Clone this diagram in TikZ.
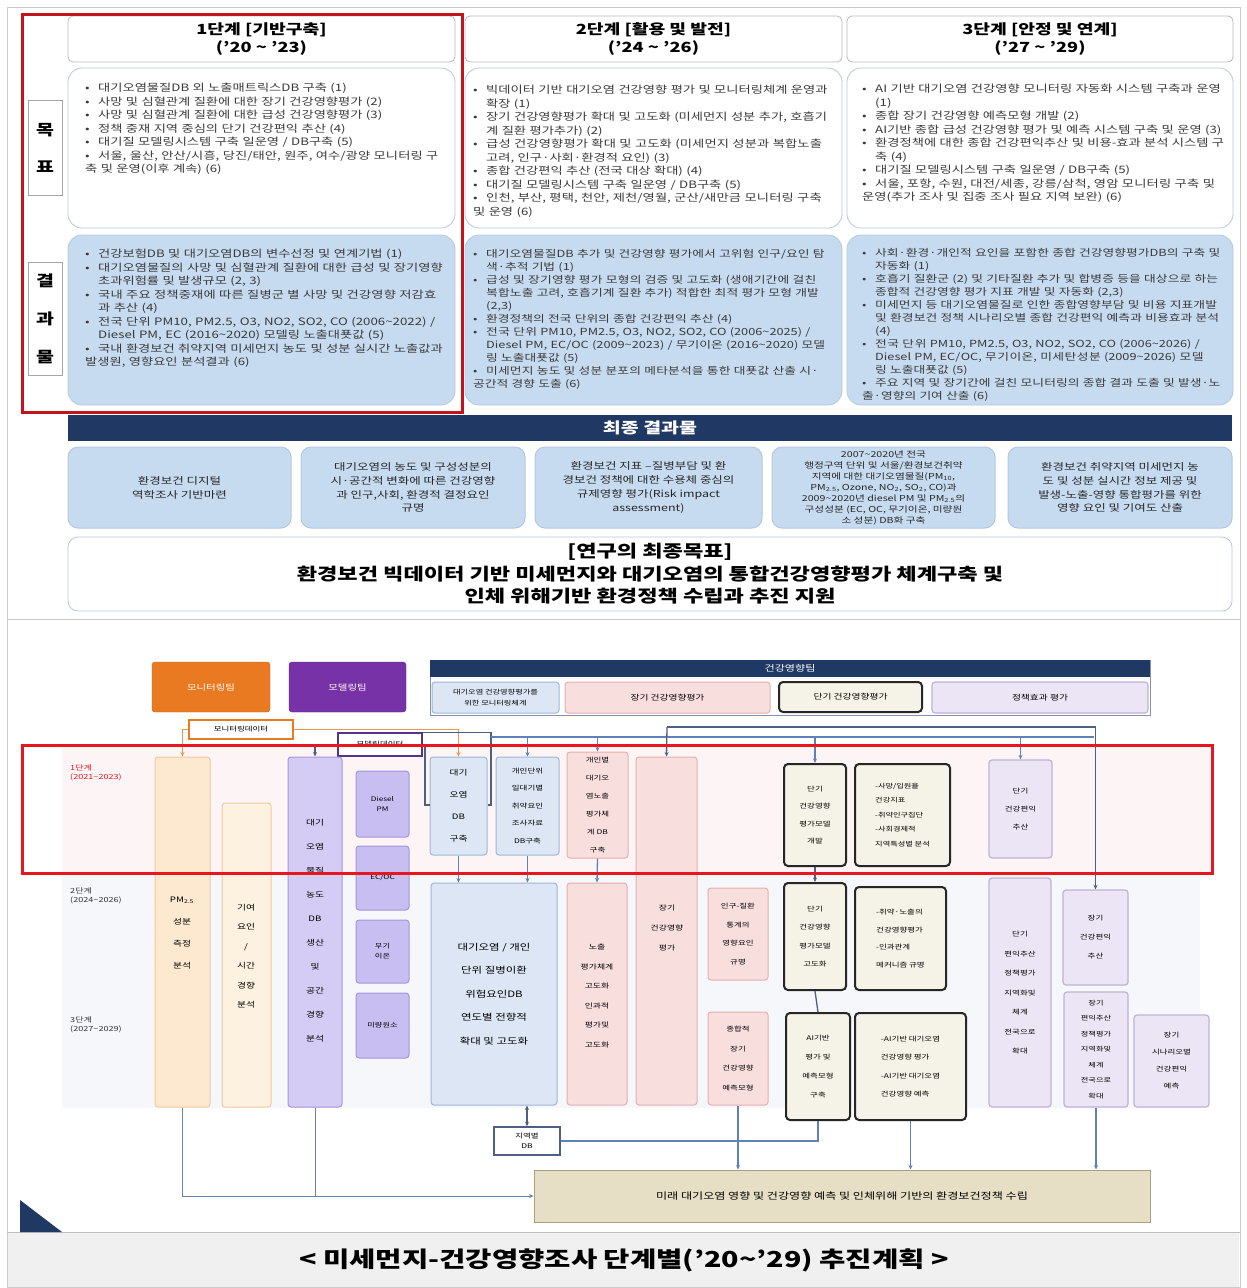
\documentclass[tikz,border=0pt]{standalone}
\usepackage{fontspec}
\setmainfont{Noto Sans CJK KR}[FakeStretch=1.3]
\usetikzlibrary{arrows.meta}
\XeTeXlinebreaklocale "ko"
\XeTeXlinebreakskip=0pt plus 0.5pt
\definecolor{navy}{HTML}{1F3864}
\definecolor{resblue}{HTML}{C6DBF0}
\definecolor{lineb}{HTML}{B4C8E0}
\definecolor{redA}{HTML}{C4141B}
\definecolor{redB}{HTML}{E8161E}
\definecolor{txtg}{HTML}{3A3A3A}
\definecolor{orgH}{HTML}{EA7A22}
\definecolor{purH}{HTML}{7632A6}
\definecolor{peach}{HTML}{FDE8D0}
\definecolor{peachB}{HTML}{F2C9A0}
\definecolor{peach2}{HTML}{FDF1E0}
\definecolor{lav}{HTML}{D5CCF6}
\definecolor{lav2}{HTML}{C9BEF2}
\definecolor{lavB}{HTML}{A496DC}
\definecolor{lblue}{HTML}{DCE6F4}
\definecolor{lblueB}{HTML}{9FB6D6}
\definecolor{pinkF}{HTML}{F9DEDE}
\definecolor{pinkB}{HTML}{E6AFAF}
\definecolor{cream}{HTML}{F5F3E7}
\definecolor{plav}{HTML}{ECE5F5}
\definecolor{plavB}{HTML}{BEB2D6}
\definecolor{tanF}{HTML}{E6DFC6}
\definecolor{tanB}{HTML}{A8A283}
\definecolor{capg}{HTML}{F0F0F0}
\definecolor{conBc}{HTML}{5E82B8}
\definecolor{bgA}{HTML}{F6F7FB}
\definecolor{bgP}{HTML}{FDF5F5}
\newcommand\fsz[2]{\fontsize{#1}{#2}\selectfont}
\newcommand\bl[1]{\par\noindent\hangindent=13pt\hangafter=1\makebox[13pt][l]{\textbullet}#1}
\newcommand\mybox[7]{%
  \pgfmathsetmacro\mbcx{(#3+#5)/2}%
  \pgfmathsetmacro\mbcy{(#4+#6)/2}%
  \pgfmathsetmacro\mbw{#5-#3}%
  \pgfmathsetmacro\mbh{#6-#4}%
  \node[#2, minimum width=\mbw pt, minimum height=\mbh pt] (#1) at (\mbcx,\mbcy) {#7};}
\begin{document}
\begin{tikzpicture}[x=1pt,y=-1pt,
  every node/.style={inner sep=0pt, align=center, font=\fsz{7}{9}},
  >={Stealth[length=4.5pt,width=4pt]},
  hdr/.style={draw=gray!55, fill=white, rounded corners=5pt, line width=0.8pt, font=\bfseries\fsz{14}{18.5}},
  goal/.style={draw=lineb, fill=white, rounded corners=14pt, line width=0.8pt},
  res/.style={draw=lineb, fill=resblue, rounded corners=14pt, line width=0.8pt},
  lab/.style={draw=gray!70, fill=white, line width=0.8pt},
  btxt/.style={anchor=north west, align=left, text=txtg, font=\fsz{10.2}{13.5}},
  frb/.style={draw=lineb, fill=resblue, rounded corners=10pt, line width=1pt, text=black!85},
  pk/.style={draw=pinkB, fill=pinkF, rounded corners=3pt, line width=1pt},
  lb/.style={draw=lblueB, fill=lblue, rounded corners=3pt, line width=1pt},
  pe/.style={draw=peachB, fill=peach, rounded corners=3pt, line width=1pt},
  lv/.style={draw=lavB, fill=lav, rounded corners=3pt, line width=1pt},
  pl/.style={draw=plavB, fill=plav, rounded corners=3pt, line width=1.2pt},
  dk/.style={draw=black!85, fill=cream, rounded corners=4pt, line width=2pt},
  conB/.style={draw=conBc, line width=1.3pt},
  conO/.style={draw=orgH!80, line width=1.1pt},
  conN/.style={draw=navy!80, line width=1.3pt},
  conG/.style={draw=conBc!80!gray, line width=1pt}
]
\useasboundingbox (0,0) rectangle (1247,1288);
\fill[white] (0,0) rectangle (1247,1288);
% frame and caption band
\fill[capg] (8,1232) rectangle (1239,1287);
\draw[gray!40, line width=1pt] (7,7) rectangle (1240,1287);
\draw[gray!40, line width=1pt] (7,619) -- (1240,619);
\draw[gray!50, line width=0.8pt] (7,1232) -- (1240,1232);

% ===== top section =====
\mybox{h1}{hdr}{68}{16}{455}{62}{1단계 [기반구축]\\('20 \textasciitilde\ '23)}
\mybox{h2}{hdr}{465}{16}{842}{62}{2단계 [활용 및 발전]\\('24 \textasciitilde\ '26)}
\mybox{h3}{hdr}{847}{16}{1233}{62}{3단계 [안정 및 연계]\\('27 \textasciitilde\ '29)}

\mybox{g1}{goal}{68}{68}{455}{228}{}
\mybox{g2}{goal}{465}{68}{842}{228}{}
\mybox{g3}{goal}{847}{68}{1233}{228}{}
\mybox{r1}{res}{68}{235}{455}{405}{}
\mybox{r2}{res}{465}{235}{842}{405}{}
\mybox{r3}{res}{847}{235}{1233}{405}{}

\mybox{lg}{lab, font=\bfseries\fsz{15}{37}}{28}{100}{62}{195}{목\\표}
\mybox{lr}{lab, font=\bfseries\fsz{15}{38}}{28}{262}{62}{375}{결\\과\\물}

\node[btxt, text width=358pt] (g1t) at (85,78) {%
\bl{대기오염물질DB 외 노출매트릭스DB 구축 (1)}%
\bl{사망 및 심혈관계 질환에 대한 장기 건강영향평가 (2)}%
\bl{사망 및 심혈관계 질환에 대한 급성 건강영향평가 (3)}%
\bl{정책 중재 지역 중심의 단기 건강편익 추산 (4)}%
\bl{대기질 모델링시스템 구축 일운영 / DB구축 (5)}%
\bl{서울, 울산, 안산/시흥, 당진/태안, 원주, 여수/광양 모니터링 구축 및 운영(이후 계속) (6)}};
\node[btxt, text width=355pt] (g2t) at (473,80) {%
\bl{빅데이터 기반 대기오염 건강영향 평가 및 모니터링체계 운영과 확장 (1)}%
\bl{장기 건강영향평가 확대 및 고도화 (미세먼지 성분 추가, 호흡기계 질환 평가추가) (2)}%
\bl{급성 건강영향평가 확대 및 고도화 (미세먼지 성분과 복합노출 고려, 인구·사회·환경적 요인) (3)}%
\bl{종합 건강편익 추산 (전국 대상 확대) (4)}%
\bl{대기질 모델링시스템 구축 일운영 / DB구축 (5)}%
\bl{인천, 부산, 평택, 천안, 제천/영월, 군산/새만금 모니터링 구축 및 운영 (6)}};
\node[btxt, text width=362pt] (g3t) at (862,79) {%
\bl{AI 기반 대기오염 건강영향 모니터링 자동화 시스템 구축과 운영 (1)}%
\bl{종합 장기 건강영향 예측모형 개발 (2)}%
\bl{AI기반 종합 급성 건강영향 평가 및 예측 시스템 구축 및 운영 (3)}%
\bl{환경정책에 대한 종합 건강편익추산 및 비용-효과 분석 시스템 구축 (4)}%
\bl{대기질 모델링시스템 구축 일운영 / DB구축 (5)}%
\bl{서울, 포항, 수원, 대전/세종, 강릉/삼척, 영암 모니터링 구축 및 운영(추가 조사 및 집중 조사 필요 지역 보완) (6)}};

\node[btxt, text width=358pt] (r1t) at (85,244) {%
\bl{건강보험DB 및 대기오염DB의 변수선정 및 연계기법 (1)}%
\bl{대기오염물질의 사망 및 심혈관계 질환에 대한 급성 및 장기영향 초과위험률 및 발생규모 (2, 3)}%
\bl{국내 주요 정책중재에 따른 질병군 별 사망 및 건강영향 저감효과 추산 (4)}%
\bl{전국 단위 PM10, PM2.5, O3, NO2, SO2, CO (2006\textasciitilde 2022) / Diesel PM, EC (2016\textasciitilde 2020) 모델링 노출대푯값 (5)}%
\bl{국내 환경보건 취약지역 미세먼지 농도 및 성분 실시간 노출값과 발생원, 영향요인 분석결과 (6)}};
\node[btxt, text width=352pt, font=\fsz{9.8}{13}] (r2t) at (473,244) {%
\bl{대기오염물질DB 추가 및 건강영향 평가에서 고위험 인구/요인 탐색·추적 기법 (1)}%
\bl{급성 및 장기영향 평가 모형의 검증 및 고도화 (생애기간에 걸친 복합노출 고려, 호흡기계 질환 추가) 적합한 최적 평가 모형 개발 (2,3)}%
\bl{환경정책의 전국 단위의 종합 건강편익 추산 (4)}%
\bl{전국 단위 PM10, PM2.5, O3, NO2, SO2, CO (2006\textasciitilde 2025) / Diesel PM, EC/OC (2009\textasciitilde 2023) / 무기이온 (2016\textasciitilde 2020) 모델링 노출대푯값 (5)}%
\bl{미세먼지 농도 및 성분 분포의 메타분석을 통한 대푯값 산출 시·공간적 경향 도출 (6)}};
\node[btxt, text width=360pt, font=\fsz{9.8}{13}] (r3t) at (862,243) {%
\bl{사회·환경·개인적 요인을 포함한 종합 건강영향평가DB의 구축 및 자동화 (1)}%
\bl{호흡기 질환군 (2) 및 기타질환 추가 및 합병증 등을 대상으로 하는 종합적 건강영향 평가 지표 개발 및 자동화 (2,3)}%
\bl{미세먼지 등 대기오염물질로 인한 종합영향부담 및 비용 지표개발 및 환경보건 정책 시나리오별 종합 건강편익 예측과 비용효과 분석 (4)}%
\bl{전국 단위 PM10, PM2.5, O3, NO2, SO2, CO (2006\textasciitilde 2026) / Diesel PM, EC/OC, 무기이온, 미세탄성분 (2009\textasciitilde 2026) 모델링 노출대푯값 (5)}%
\bl{주요 지역 및 장기간에 걸친 모니터링의 종합 결과 도출 및 발생·노출·영향의 기여 산출 (6)}};

% red highlight (top)
\draw[redA, line width=3pt] (22,14) rectangle (462,412);

% final results
\mybox{fb}{fill=navy, text=white, font=\bfseries\fsz{15}{18}}{68}{415}{1232}{441}{최종 결과물}
\mybox{fr1}{frb, font=\fsz{9.6}{13.8}}{68}{447}{291}{528}{환경보건 디지털\\역학조사 기반마련}
\mybox{fr2}{frb, font=\fsz{9.6}{13.8}}{301}{447}{525}{528}{대기오염의 농도 및 구성성분의\\시·공간적 변화에 따른 건강영향\\과 인구,사회, 환경적 결정요인\\규명}
\mybox{fr3}{frb, font=\fsz{9.6}{13.8}}{535}{447}{762}{528}{환경보건 지표 –질병부담 및 환\\경보건 정책에 대한 수용체 중심의\\규제영향 평가(Risk impact\\assessment)}
\mybox{fr4}{frb, font=\fsz{8.2}{11}}{772}{447}{995}{528}{2007\textasciitilde 2020년 전국\\행정구역 단위 및 서울/환경보건취약\\지역에 대한 대기오염물질(PM\textsubscript{10},\\PM\textsubscript{2.5}, Ozone, NO\textsubscript{2}, SO\textsubscript{2}, CO)과\\2009\textasciitilde 2020년 diesel PM 및 PM\textsubscript{2.5}의\\구성성분 (EC, OC, 무기이온, 미량원\\소 성분) DB화 구축}
\mybox{fr5}{frb, font=\fsz{9.6}{13.8}}{1008}{447}{1232}{528}{환경보건 취약지역 미세먼지 농\\도 및 성분 실시간 정보 제공 및\\발생-노출-영향 통합평가를 위한\\영향 요인 및 기여도 산출}

\mybox{fg}{goal, rounded corners=10pt, font=\bfseries\fsz{17}{22.5}}{68}{537}{1232}{611}{[연구의 최종목표]\\환경보건 빅데이터 기반 미세먼지와 대기오염의 통합건강영향평가 체계구축 및\\인체 위해기반 환경정책 수립과 추진 지원}

% ===== flowchart =====
\fill[bgA] (62,745) rectangle (1200,1108);
\fill[bgP] (62,745) rectangle (1210,874);

\mybox{oh}{fill=orgH, draw=orgH!80!black, rounded corners=3pt, text=white, font=\fsz{8}{10}}{152}{662}{270}{712}{모니터링팀}
\mybox{ph}{fill=purH, draw=purH!80!black, rounded corners=3pt, text=white, font=\fsz{8}{10}}{289}{662}{406}{712}{모델링팀}
\draw[navy!55, line width=1pt] (430,660) rectangle (1150,715);
\mybox{hb}{fill=navy, text=white, font=\fsz{8.5}{10}}{430}{660}{1150}{677}{건강영향팀}
\mybox{s1}{lb, font=\fsz{6.3}{11}}{432}{682}{559}{713}{대기오염 건강영향평가를\\위한 모니터링체계}
\mybox{s2}{pk, font=\fsz{7.5}{10}}{565}{682}{770}{713}{장기 건강영향평가}
\mybox{s3}{dk, font=\fsz{7.5}{10}}{779}{682}{922}{712}{단기 건강영향평가}
\mybox{s4}{pl, font=\fsz{7.5}{10}}{932}{682}{1148}{713}{정책효과 평가}

\mybox{xb}{draw=orgH, line width=1.8pt, fill=white, font=\fsz{6.5}{8}}{189}{720}{293}{739}{모니터링데이터}
\mybox{mb}{draw=purH!60!navy, line width=1.5pt, fill=white, font=\fsz{6.5}{8}}{338}{733}{422}{756}{모델링데이터}

\node[anchor=north west, align=left, font=\fsz{7}{9}, text=redB] (p1) at (70,764) {1단계\\(2021\textasciitilde 2023)};
\node[anchor=north west, align=left, font=\fsz{7}{9}, text=black!80] (p2) at (70,887) {2단계\\(2024\textasciitilde 2026)};
\node[anchor=north west, align=left, font=\fsz{7}{9}, text=black!80] (p3) at (70,1016) {3단계\\(2027\textasciitilde 2029)};

\mybox{cA}{pe}{155}{757}{210}{1107}{}
\node[font=\fsz{7.5}{22}] (cAt) at (182,933) {PM\textsubscript{2.5}\\성분\\측정\\분석};
\mybox{cB}{pe, fill=peach2}{222}{803}{271}{1107}{}
\node[font=\fsz{7.5}{19.5}] (cBt) at (246,956) {기여\\요인\\/\\시간\\경향\\분석};
\mybox{cC}{lv}{288}{757}{342}{1107}{}
\node[font=\fsz{7.5}{24}] (cCt) at (315,931) {대기\\오염\\물질\\농도\\DB\\생산\\및\\공간\\경향\\분석};
\mybox{cD1}{lv, fill=lav2, font=\fsz{6.3}{10}}{356}{771}{409}{837}{Diesel\\PM}
\mybox{cD2}{lv, fill=lav2, font=\fsz{6.3}{10}}{356}{846}{409}{910}{EC/OC}
\mybox{cD3}{lv, fill=lav2, font=\fsz{6.3}{10}}{356}{920}{409}{983}{무기\\이온}
\mybox{cD4}{lv, fill=lav2, font=\fsz{6.3}{10}}{356}{993}{409}{1058}{미량원소}

\mybox{cE}{lb, font=\fsz{7.5}{22}}{430}{757}{487}{855}{대기\\오염\\DB\\구축}
\mybox{cF}{lb, font=\fsz{6.5}{17.5}}{496}{757}{559}{855}{개인단위\\일대기별\\취약요인\\조사자료\\DB구축}
\mybox{cG}{pk, font=\fsz{6.5}{18}}{567}{752}{628}{858}{개인별\\대기오\\염노출\\평가체\\계 DB\\구축}
\mybox{bigB}{lb, font=\fsz{8.8}{23.5}}{431}{883}{557}{1105}{대기오염 / 개인\\단위 질병이환\\위험요인DB\\연도별 전향적\\확대 및 고도화}
\mybox{cG2}{pk}{567}{883}{627}{1105}{}
\node[font=\fsz{6.8}{19.5}] (cG2t) at (597,996) {노출\\평가체계\\고도화\\인과적\\평가및\\고도화};
\mybox{cH}{pk}{636}{757}{697}{1105}{}
\node[font=\fsz{6.8}{20}] (cHt) at (667,928) {장기\\건강영향\\평가};
\mybox{cI1}{pk, font=\fsz{6.5}{18.5}}{708}{888}{768}{980}{인구-질환\\통계의\\영향요인\\규명}
\mybox{cI2}{pk, font=\fsz{6.5}{19.5}}{708}{1012}{768}{1105}{종합적\\장기\\건강영향\\예측모형}
\mybox{cJ1}{dk, font=\fsz{6.5}{17.5}}{784}{764}{846}{866}{단기\\건강영향\\평가모델\\개발}
\mybox{cK1}{dk, font=\fsz{6.3}{14.5}, align=left}{855}{764}{950}{866}{-사망/입원율\\건강지표\\-취약인구집단\\-사회경제적\\지역특성별 분석}
\mybox{cJ2}{dk, font=\fsz{6.5}{18.5}}{784}{883}{846}{990}{단기\\건강영향\\평가모델\\고도화}
\mybox{cK2}{dk, font=\fsz{6.5}{17.5}, align=left}{855}{887}{946}{990}{-취약·노출의\\건강영향평가\\-인과관계\\메커니즘 규명}
\mybox{cJ3}{dk, font=\fsz{6.5}{19}}{786}{1013}{850}{1120}{AI기반\\평가 및\\예측모형\\구축}
\mybox{cK3}{dk, font=\fsz{6.5}{18.5}, align=left}{855}{1013}{966}{1120}{-AI기반 대기오염\\건강영향 평가\\-AI기반 대기오염\\건강영향 예측}
\mybox{cL1}{pl, font=\fsz{6.5}{18}}{989}{760}{1052}{858}{단기\\건강편익\\추산}
\mybox{cL2}{pl}{989}{878}{1051}{1107}{}
\node[font=\fsz{6.5}{19.5}] (cL2t) at (1020,993) {단기\\편익추산\\정책평가\\지역화및\\체계\\전국으로\\확대};
\mybox{cM1}{pl, font=\fsz{6.5}{19}}{1063}{890}{1128}{985}{장기\\건강편익\\추산}
\mybox{cM2}{pl, font=\fsz{6.3}{15.5}}{1064}{992}{1128}{1107}{장기\\편익추산\\정책평가\\지역화및\\체계\\전국으로\\확대}
\mybox{cN}{pl, font=\fsz{6.5}{17}}{1134}{1015}{1209}{1107}{장기\\시나리오별\\건강편익\\예측}
\mybox{db}{draw=navy!80, line width=1.5pt, fill=white, font=\fsz{6.5}{10}}{494}{1127}{560}{1155}{지역별\\DB}
\mybox{res}{fill=tanF, draw=tanB, line width=1pt, font=\fsz{9.3}{11}}{534}{1170}{1150}{1222}{미래 대기오염 영향 및 건강영향 예측 및 인체위해 기반의 환경보건정책 수립}

% connectors
\coordinate (mbk) at (425,805);
\coordinate (mbr) at (491,805);
\coordinate (busL) at (491,737);
\coordinate (busR) at (1094,737);
\coordinate (busT) at (667,727);
\draw[conO,->] (xb.west) -| (cA.north);
\draw[conO,->] (xb.east) -| (cE.north);
\draw[conN,->] (mb.west) -| (cC.north);
\draw[conN] (mb.east) -| (mbk) -- (mbk -| cE.west);
\draw[conN] (mb.north east) -| (mbr) -- (mbr -| cE.east);
\draw[conB] (busL) -- (busR);
\foreach \n in {cF,cG,cJ1,cL1} \draw[conB,->] (\n.north |- busL) -- (\n.north);
\draw[conN,->] (busT) -- (cH.north);
\draw[conN,->] (busT) -| (cM1.north);
\draw[conB,->] (cE.south) -- (cE.south |- bigB.north);
\draw[conB,->] (cF.south) -- (cF.south |- bigB.north);
\draw[conB,->] (cG.south) -- (cG2.north);
\draw[conN,->] (cJ1.south) -- (cJ2.north);
\draw[conN] (cJ2.south) -- (cJ3.north);
\draw[conN,<->] (db.north) -- (db.north |- bigB.south);
\draw[conB] (db.east) -| (cJ3.south);
\draw[conB,->] (cI2.south) -- (cI2.south |- res.north);
\draw[conB,->] (cK3.south) -- (cK3.south |- res.north);
\draw[conB,->] (cM2.south) -- (cM2.south |- res.north);
\draw[conG,->] (cA.south) |- (res.west);
\draw[conG] (cC.south) -- (cC.south |- res.west);

% red highlight (bottom)
\draw[redB, line width=3pt] (22,745) rectangle (1212,873);

% corner triangle and caption
\fill[navy] (20,1200) -- (62,1232) -- (20,1232) -- cycle;
\node[font=\bfseries\fsz{22}{26}] (cap) at (624,1260) {< 미세먼지-건강영향조사 단계별('20\textasciitilde'29) 추진계획 >};
\end{tikzpicture}
\end{document}
